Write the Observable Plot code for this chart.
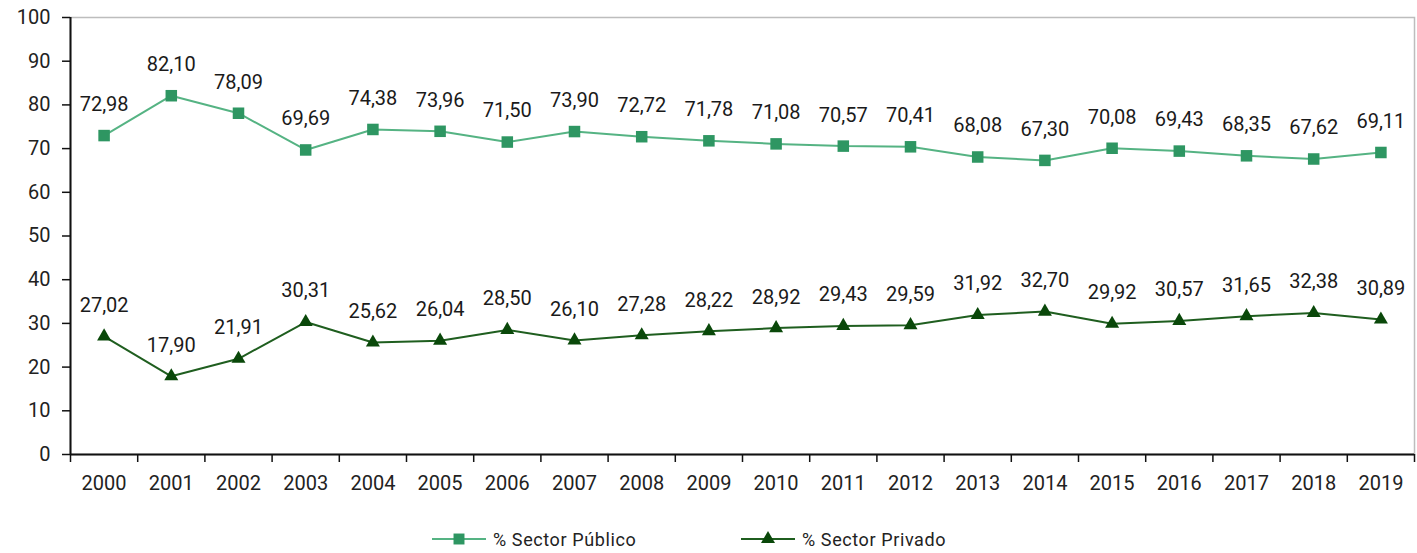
<!DOCTYPE html>
<html>
<head>
<meta charset="utf-8">
<script src="https://cdn.jsdelivr.net/npm/d3@7"></script>
<script src="https://cdn.jsdelivr.net/npm/@observablehq/plot@0.6"></script>
<style>
  html, body { margin: 0; padding: 0; background: #fff; }
  #wrap { position: relative; width: 1417px; height: 553px; font-family: Roboto, sans-serif; }
  #legend { position: absolute; left: 0; top: 500px; width: 1417px; height: 53px; }
  .item { position: absolute; display: flex; align-items: center; height: 20px; top: 29px; font-family: Roboto, sans-serif; font-size: 18px; letter-spacing: 0.6px; color: #222; }
  .item svg { display: block; }
</style>
</head>
<body>
<div id="wrap"><div id="chart"></div><div id="legend"></div></div>
<script>
const years = ["2000","2001","2002","2003","2004","2005","2006","2007","2008","2009","2010","2011","2012","2013","2014","2015","2016","2017","2018","2019"];
const publico = [72.98,82.10,78.09,69.69,74.38,73.96,71.50,73.90,72.72,71.78,71.08,70.57,70.41,68.08,67.30,70.08,69.43,68.35,67.62,69.11];
const privado = [27.02,17.90,21.91,30.31,25.62,26.04,28.50,26.10,27.28,28.22,28.92,29.43,29.59,31.92,32.70,29.92,30.57,31.65,32.38,30.89];
const seriesNames = ["% Sector Público", "% Sector Privado"];
const yTicks = [0,10,20,30,40,50,60,70,80,90,100];

const pubColorLine = "#55b383", pubColorMark = "#2e9662";
const privColorLine = "#1f5e1f", privColorMark = "#0a480a";

const pubData = years.map((y, i) => ({i, year: y, value: publico[i]}));
const privData = years.map((y, i) => ({i, year: y, value: privado[i]}));
const fmt = v => v.toFixed(2).replace(".", ",");
const idx = d3.range(years.length);
const bounds = d3.range(years.length + 1).map(k => k - 0.5);

const chart = Plot.plot({
  width: 1417,
  height: 500,
  marginLeft: 70,
  marginRight: 3,
  marginTop: 17,
  marginBottom: 46,
  style: {fontFamily: "Roboto, sans-serif", fontSize: "20px", color: "#222", background: "#fff"},
  x: {type: "linear", domain: [-0.5, years.length - 0.5]},
  y: {domain: [0, 100]},
  marks: [
    Plot.frame({stroke: "#bdbdbd", strokeWidth: 1.5}),
    Plot.axisY({ticks: yTicks, tickSize: 8, tickPadding: 12, label: null, stroke: "#111", strokeWidth: 1.5, fontSize: 20}),
    Plot.axisX({ticks: idx, tickSize: 0, tickPadding: 21, tickFormat: i => years[i], label: null, fontSize: 20}),
    Plot.axisX({ticks: bounds, tickSize: 8, tickFormat: () => "", label: null, stroke: "#111", strokeWidth: 1.5}),
    Plot.ruleX([-0.5], {stroke: "#111", strokeWidth: 2}),
    Plot.ruleY([0], {stroke: "#111", strokeWidth: 2}),
    Plot.line(pubData, {x: "i", y: "value", stroke: pubColorLine, strokeWidth: 2}),
    Plot.line(privData, {x: "i", y: "value", stroke: privColorLine, strokeWidth: 2}),
    Plot.dot(pubData, {x: "i", y: "value", symbol: "square", r: 6.5, fill: pubColorMark, stroke: "none"}),
    Plot.dot(privData, {x: "i", y: "value", symbol: "triangle", r: 5.2, fill: privColorMark, stroke: "none"}),
    Plot.text(pubData, {x: "i", y: "value", text: d => fmt(d.value), dy: -31, fontSize: 20, fill: "#1a1a1a"}),
    Plot.text(privData, {x: "i", y: "value", text: d => fmt(d.value), dy: -31, fontSize: 20, fill: "#1a1a1a"})
  ]
});
document.getElementById("chart").appendChild(chart);

// Legend
const legend = document.getElementById("legend");
const legendItems = [
  {name: seriesNames[0], line: pubColorLine, mark: pubColorMark, symbol: d3.symbolSquare, size: 120, left: 432},
  {name: seriesNames[1], line: privColorLine, mark: privColorMark, symbol: d3.symbolTriangle, size: 85, left: 741}
];
for (const it of legendItems) {
  const div = document.createElement("div");
  div.className = "item";
  div.style.left = it.left + "px";
  const sw = d3.create("svg").attr("width", 54).attr("height", 20);
  sw.append("line").attr("x1", 0).attr("x2", 54).attr("y1", 10).attr("y2", 10).attr("stroke", it.line).attr("stroke-width", 2);
  sw.append("path").attr("d", d3.symbol(it.symbol, it.size)()).attr("transform", "translate(27,10)").attr("fill", it.mark);
  div.appendChild(sw.node());
  const span = document.createElement("span");
  span.style.marginLeft = "7px";
  span.textContent = it.name;
  div.appendChild(span);
  legend.appendChild(div);
}
</script>
</body>
</html>
